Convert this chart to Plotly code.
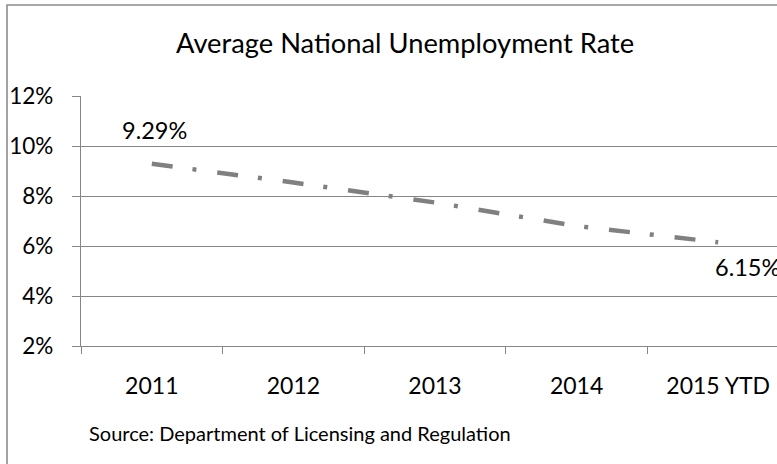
import plotly.graph_objects as go

categories = ["2011", "2012", "2013", "2014", "2015 YTD"]
rates = [9.29, 8.54, 7.74, 6.80, 6.15]
y_ticks = [2, 4, 6, 8, 10, 12]
y_tick_labels = ["2%", "4%", "6%", "8%", "10%", "12%"]
title_text = "Average National Unemployment Rate"
source_text = "Source: Department of Licensing and Regulation"

W, H = 777, 464
ML, MR, MT, MB = 81, 0, 96, 118
PW = W - ML - MR
PH = H - MT - MB

def px_to_paper_x(px):
    return (px - ML) / PW

def px_to_paper_y(py):
    return (H - MB - py) / PH

FONT = "Lato"
GRID = "#868686"

fig = go.Figure()
fig.add_trace(go.Scatter(
    x=categories, y=rates, mode="lines",
    line=dict(color="#808080", width=4.5, dash="21px,20px,4px,21px"),
    hoverinfo="skip", showlegend=False,
))

# data labels for first and last points (x given as category index)
first, last = 0, len(categories) - 1
fig.add_annotation(x=first, y=rates[first], xref="x", yref="y",
                   text=f"{rates[first]:.2f}%", showarrow=False,
                   xanchor="center", yanchor="middle", xshift=2.5, yshift=34,
                   font=dict(family=FONT, size=23.5, color="#000000"))
fig.add_annotation(x=last, y=rates[last], xref="x", yref="y",
                   text=f"{rates[last]:.2f}%", showarrow=False,
                   xanchor="left", yanchor="middle", xshift=-5, yshift=-25,
                   font=dict(family=FONT, size=23.5, color="#000000"))

# title
fig.add_annotation(x=px_to_paper_x(404.5), y=px_to_paper_y(42), xref="paper", yref="paper",
                   text=title_text, showarrow=False, xanchor="center", yanchor="middle",
                   font=dict(family=FONT, size=27.3, color="#000000"))
# source
fig.add_annotation(x=px_to_paper_x(87), y=px_to_paper_y(433), xref="paper", yref="paper",
                   text=source_text, showarrow=False, xanchor="left", yanchor="middle",
                   font=dict(family=FONT, size=20, color="#000000"))

# chart border (left and top visible)
bx0 = px_to_paper_x(7)
by0 = px_to_paper_y(5)
fig.add_shape(type="path", xref="paper", yref="paper",
              path=f"M {bx0},{px_to_paper_y(480)} L {bx0},{by0} L {px_to_paper_x(800)},{by0}",
              line=dict(color="#8c8c8c", width=1.6))

fig.update_layout(
    width=W, height=H,
    margin=dict(l=ML, r=MR, t=MT, b=MB, autoexpand=False),
    paper_bgcolor="white", plot_bgcolor="white",
    showlegend=False,
    font=dict(family=FONT, color="#000000"),
)
fig.update_xaxes(
    type="category", range=[-0.5, -0.5 + PW / 141.6], automargin=False,
    showline=True, linecolor=GRID, linewidth=1.3,
    ticks="outside", tickson="boundaries", ticklen=7, tickcolor=GRID, tickwidth=1.3,
    showgrid=False, tickfont=dict(family=FONT, size=23, color="#000000"),
    ticklabelstandoff=19,
)
fig.update_yaxes(
    range=[2, 12], tickvals=y_ticks, ticktext=y_tick_labels, automargin=False,
    showline=True, linecolor=GRID, linewidth=1.3,
    ticks="outside", ticklen=8, tickcolor=GRID, tickwidth=1.3,
    showgrid=True, gridcolor=GRID, gridwidth=1.3, zeroline=False,
    tickfont=dict(family=FONT, size=22.5, color="#000000"),
    ticklabelstandoff=14,
)

fig.write_html("out.html", config={"displayModeBar": False},
               post_script="document.body.style.margin='0';")
